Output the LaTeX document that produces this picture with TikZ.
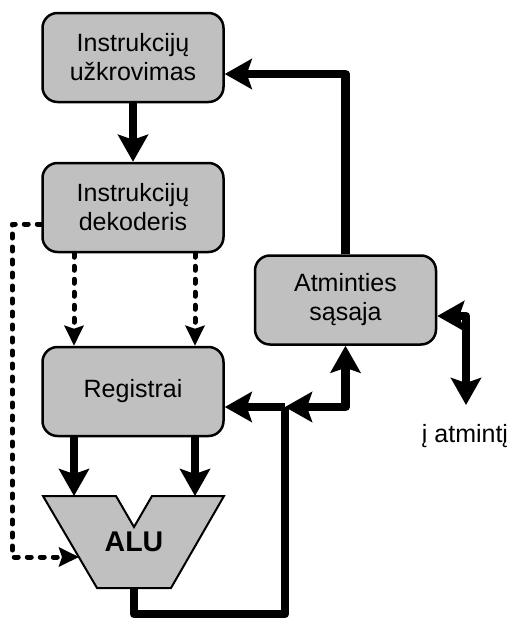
\documentclass[tikz,border=0pt]{standalone}
\usepackage{fontspec}
\setmainfont{Liberation Sans}
\usetikzlibrary{arrows.meta}
\definecolor{boxgray}{HTML}{C0C0C0}
\begin{document}
\begin{tikzpicture}[x=1pt,y=-1pt,
  bigtip/.tip={Stealth[length=27pt,width=30pt,inset=5pt]},
  smalltip/.tip={Stealth[length=20pt,width=19pt,inset=3pt]},
  unit/.style={draw=black, fill=boxgray, line width=2.5pt, rounded corners=15pt,
    minimum width=181pt, minimum height=89pt, align=center, inner sep=0pt,
    font=\fontsize{25}{29}\selectfont},
  label/.style={inner sep=0pt, anchor=base, font=\fontsize{25}{29}\selectfont},
  bus/.style={line width=8.5pt, line join=round},
  ctl/.style={line width=5pt, line cap=round, line join=round, dash pattern=on 4pt off 9pt},
  alubody/.style={draw=black, fill=boxgray, line width=2pt, line join=miter}
]
\useasboundingbox (0,0) rectangle (518,621);

% functional units
\node[unit] (fetch)  at (133,57.5)  {Instrukcijų\\užkrovimas};
\node[unit] (decode) at (133,207.5) {Instrukcijų\\dekoderis};
\node[unit] (regs)   at (133,391.5) {Registrai};
\node[unit] (memif)  at (345.5,300) {Atminties\\sąsaja};

% ALU with its two operand inputs
\draw[alubody] (43,496) -- (116,496) -- (134,527) -- (152,496) -- (224,496)
  -- (171,588) -- (97,588) -- cycle;
\node[inner sep=0pt, anchor=base, font=\fontsize{28.5}{30}\selectfont\bfseries] (alu) at (134,551) {ALU};
\coordinate (alu-a)   at (74,496);
\coordinate (alu-b)   at (195,496);
\coordinate (alu-ctl) at (79,557);
\coordinate (alu-out) at (134,588);

% memory side
\coordinate (memport) at (466,405);
\node[label] (memlabel) at (465,442) {į atmintį};
\coordinate (bus-j) at (285,407);

% data paths
\draw[bus,-bigtip] (fetch.south) -- (decode.north);
\draw[bus,-bigtip] (memif.north) |- ([yshift=-16.5pt]fetch.east);
\draw[bus,bigtip-bigtip] ([yshift=-16pt]memif.east) -| (memport);
\draw[bus,bigtip-bigtip] (bus-j) -| (memif.south);
\draw[bus,-bigtip] (bus-j) -- (regs.east |- bus-j);
\draw[bus] (alu-out) -- ++(0,26) -| (bus-j);
\draw[bus,-bigtip] (regs.south -| alu-a) -- (alu-a);
\draw[bus,-bigtip] (regs.south -| alu-b) -- (alu-b);

% control signals
\draw[ctl,-smalltip] (decode.south -| alu-a) -- (regs.north -| alu-a);
\draw[ctl,-smalltip] (decode.south -| alu-b) -- (regs.north -| alu-b);
\draw[ctl,-smalltip] ([yshift=-16.5pt]decode.west) -- ++(-29,0) |- (alu-ctl);
\end{tikzpicture}
\end{document}
